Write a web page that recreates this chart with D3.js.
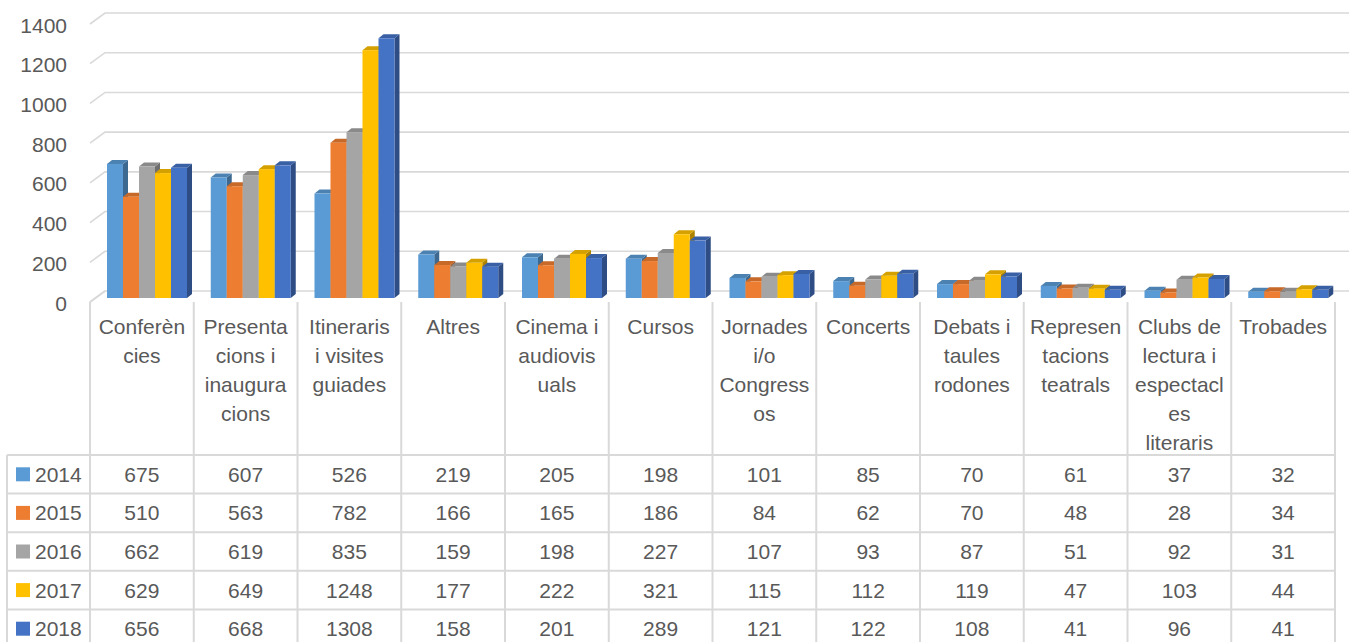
<!DOCTYPE html>
<html>
<head>
<meta charset="utf-8">
<script src="https://cdn.jsdelivr.net/npm/d3@7"></script>
<style>
html,body{margin:0;padding:0;background:#fff;}
svg{display:block;font-family:"Liberation Sans",Arial,sans-serif;}
</style>
</head>
<body>
<svg id="chart" width="1357" height="642"></svg>
<script>
const categories = ["Conferències","Presentacions i inauguracions","Itineraris i visites guiades","Altres","Cinema i audiovisuals","Cursos","Jornades i/o Congressos","Concerts","Debats i taules rodones","Representacions teatrals","Clubs de lectura i espectacles literaris","Trobades"];
const categoryLines = [
  ["Conferèn","cies"],
  ["Presenta","cions i","inaugura","cions"],
  ["Itineraris","i visites","guiades"],
  ["Altres"],
  ["Cinema i","audiovis","uals"],
  ["Cursos"],
  ["Jornades","i/o","Congress","os"],
  ["Concerts"],
  ["Debats i","taules","rodones"],
  ["Represen","tacions","teatrals"],
  ["Clubs de","lectura i","espectacl","es","literaris"],
  ["Trobades"]
];
const seriesNames = ["2014","2015","2016","2017","2018"];
const v2014 = [675,607,526,219,205,198,101,85,70,61,37,32];
const v2015 = [510,563,782,166,165,186,84,62,70,48,28,34];
const v2016 = [662,619,835,159,198,227,107,93,87,51,92,31];
const v2017 = [629,649,1248,177,222,321,115,112,119,47,103,44];
const v2018 = [656,668,1308,158,201,289,121,122,108,41,96,41];
const series = [v2014,v2015,v2016,v2017,v2018];
const colors = ["#5B9BD5","#ED7D31","#A5A5A5","#FFC000","#4472C4"];
const yTicks = [0,200,400,600,800,1000,1200,1400];

const svg = d3.select("#chart");
const textColor = "#595959";
const gridColor = "#d9d9d9";

// layout
const tableLeft = 90, tableRight = 1335;
const x = d3.scaleBand().domain(d3.range(categories.length)).range([tableLeft, tableRight]).padding(0);
const backBase = 291, frontFloor = 302, barBase = 298;
const depthX = 15, depthY = 11;
const gridRight = 1349;
const h = d3.scaleLinear().domain([0,1400]).range([0, 278]); // height in px

// gridlines (back wall + left wall diagonal)
const g = svg.append("g");
yTicks.forEach(t => {
  const yb = backBase - h(t);
  g.append("path")
    .attr("d", `M${tableLeft},${yb+depthY} L${tableLeft+depthX},${yb} L${gridRight},${yb}`)
    .attr("fill","none").attr("stroke",gridColor).attr("stroke-width",1.6);
  g.append("text")
    .attr("x",67).attr("y", yb + depthY + 1)
    .attr("text-anchor","end").attr("dominant-baseline","central")
    .attr("font-size",21).attr("fill",textColor).text(t);
});

// bars (3D)
const barW = 16, groupOff = 17, dx = 5, dy = 4;
const bars = svg.append("g");
categories.forEach((c, ci) => {
  series.forEach((s, si) => {
    const v = s[ci];
    const x0 = x(ci) + groupOff + si*barW;
    const x1 = x0 + barW;
    const yt = barBase - h(v);
    const col = d3.color(colors[si]);
    // side
    bars.append("path")
      .attr("d", `M${x1},${barBase} L${x1+dx},${barBase-dy} L${x1+dx},${yt-dy} L${x1},${yt} Z`)
      .attr("fill", col.darker(1.1).formatHex());
    // top
    bars.append("path")
      .attr("d", `M${x0},${yt} L${x0+dx},${yt-dy} L${x1+dx},${yt-dy} L${x1},${yt} Z`)
      .attr("fill", col.darker(0.5).formatHex());
    // front
    bars.append("rect")
      .attr("x", x0).attr("y", yt).attr("width", barW).attr("height", barBase - yt)
      .attr("fill", colors[si]);
  });
});

// data table
const rowTop = 455, rowH = 38.6, nRows = series.length;
const tbl = svg.append("g");
// vertical lines for category columns
d3.range(categories.length + 1).forEach(i => {
  const xx = tableLeft + i * x.bandwidth();
  tbl.append("line").attr("x1",xx).attr("x2",xx).attr("y1",frontFloor).attr("y2",rowTop + rowH*nRows + 2)
    .attr("stroke",gridColor).attr("stroke-width",2);
});
// left border
tbl.append("line").attr("x1",7).attr("x2",7).attr("y1",rowTop).attr("y2",rowTop + rowH*nRows + 2)
  .attr("stroke",gridColor).attr("stroke-width",2);
// horizontal lines
d3.range(nRows + 1).forEach(r => {
  const yy = rowTop + r*rowH;
  tbl.append("line").attr("x1",7).attr("x2",tableRight).attr("y1",yy).attr("y2",yy)
    .attr("stroke",gridColor).attr("stroke-width",2);
});
// floor left edge
tbl.append("line").attr("x1",tableLeft).attr("y1",frontFloor).attr("x2",tableLeft+depthX).attr("y2",backBase)
  .attr("stroke",gridColor).attr("stroke-width",1.6);

// header labels
categoryLines.forEach((lines, ci) => {
  const cx = x(ci) + x.bandwidth()/2;
  lines.forEach((ln, li) => {
    tbl.append("text").attr("x",cx).attr("y",334 + li*29)
      .attr("text-anchor","middle").attr("font-size",21).attr("fill",textColor).text(ln);
  });
});

// rows
series.forEach((s, si) => {
  const cy = rowTop + si*rowH + rowH/2;
  tbl.append("rect").attr("x",16).attr("y",cy-7).attr("width",14).attr("height",14).attr("fill",colors[si]);
  tbl.append("text").attr("x",35).attr("y",cy+7.5).attr("font-size",21).attr("fill",textColor).text(seriesNames[si]);
  s.forEach((v, ci) => {
    tbl.append("text").attr("x", x(ci) + x.bandwidth()/2).attr("y", cy + 7.5)
      .attr("text-anchor","middle").attr("font-size",21).attr("fill",textColor).text(v);
  });
});
</script>
</body>
</html>
